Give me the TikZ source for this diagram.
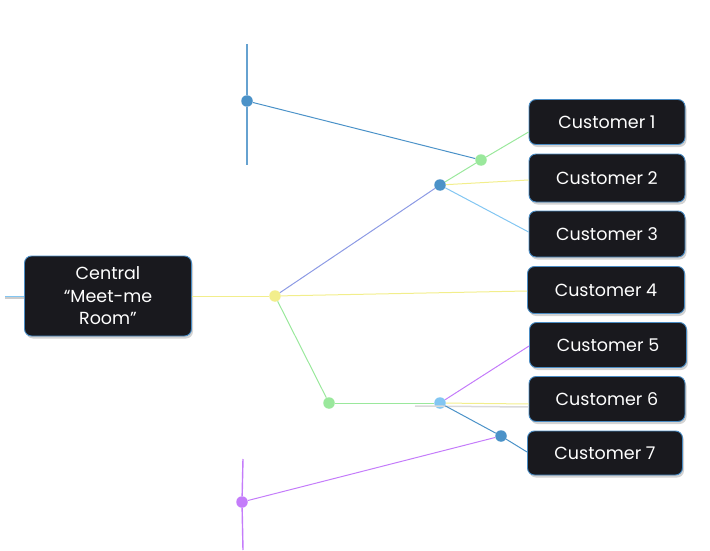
\documentclass[tikz,border=0pt]{standalone}
\usepackage{fontspec}
\setmainfont{Poppins}
\usetikzlibrary{shadows}
\definecolor{boxfill}{HTML}{19191E}
\definecolor{edgeblue}{HTML}{4A8CC4}
\definecolor{lnblue}{HTML}{4B92C8}
\definecolor{lngreen}{HTML}{9AE89C}
\definecolor{lnyellow}{HTML}{F2EE8C}
\definecolor{lnsky}{HTML}{82C6F2}
\definecolor{lnpurple}{HTML}{C47CFA}
\definecolor{lnperi}{HTML}{8C9AE4}
\begin{document}
\begin{tikzpicture}[x=1pt,y=-1pt,
  custbox/.style={draw=edgeblue, line width=0.9pt, fill=boxfill, rounded corners=7pt,
    text=white, minimum width=156pt, minimum height=45pt,
    font=\fontsize{17.5}{22.5}\selectfont,
    drop shadow={opacity=0.35, shadow xshift=1.5pt, shadow yshift=-2.5pt}},
  hub/.style={circle, fill=#1, inner sep=0pt, minimum size=11.5pt},
  link/.style={draw=#1, line width=1pt}]
\useasboundingbox (0,0) rectangle (710,551);
% boxes
\node[custbox, minimum width=167pt, minimum height=80pt, align=center] (central) at (108,296)
  {Central\\“Meet-me\\Room”};
\node[custbox] (c1) at (607,122) {Customer 1};
\node[custbox, minimum height=48pt] (c2) at (607,178) {Customer 2};
\node[custbox, minimum height=46pt] (c3) at (607,234) {Customer 3};
\node[custbox, minimum height=47pt, minimum width=157pt] (c4) at (606,290) {Customer 4};
\node[custbox, minimum width=157pt] (c5) at (608,345) {Customer 5};
\node[custbox] (c6) at (607,399) {Customer 6};
\node[custbox, minimum width=155pt, minimum height=44pt] (c7) at (605,453) {Customer 7};
% hubs
\node[hub=lnblue] (h1) at (247,101) {};
\node[hub=lngreen] (h2) at (481,160) {};
\node[hub=lnblue] (h3) at (440,185) {};
\node[hub=lnyellow] (h4) at (275,296) {};
\node[hub=lngreen] (h5) at (329,403) {};
\node[hub=lnsky] (h6) at (440,403) {};
\node[hub=lnblue] (h7) at (501,436) {};
\node[hub=lnpurple] (h8) at (242,502) {};
\coordinate (top1) at (247,44);
\coordinate (bot1) at (247,165);
\coordinate (top2) at (243,459);
\coordinate (bot2) at (243,550);
\coordinate (lend) at (5,298);
\coordinate (sh6) at (415,406);
% connectors
\draw[link=lnblue!85, line width=1.4pt] (top1) -- (h1) -- (bot1);
\draw[link=lnpurple, line width=1.4pt] (top2) -- (h8) -- (bot2);
\draw[gray!40, line width=1.5pt] (lend) -- ([yshift=-2pt]central.west);
\draw[link=lnsky] ([yshift=2pt]lend) -- (central.west);
\draw[gray!30, line width=1.5pt] (sh6) -- ([yshift=-8pt]c6.west);
\draw[link=lnblue] (h1) -- (h2);
\draw[link=lngreen] (h3) -- (h2);
\draw[link=lngreen] (h2) -- ([yshift=-10pt]c1.west);
\draw[link=lnyellow] (h3) -- ([yshift=-2pt]c2.west);
\draw[link=lnsky] (h3) -- ([yshift=2pt]c3.west);
\draw[link=lnperi] (h4) -- (h3);
\draw[link=lnyellow] (central.east) -- (h4);
\draw[link=lnyellow] (h4) -- ([yshift=-1pt]c4.west);
\draw[link=lngreen] (h4) -- (h5);
\draw[link=lngreen] (h5) -- (h6);
\draw[link=lnyellow] (h6) -- ([yshift=-5pt]c6.west);
\draw[link=lnpurple] (h6) -- ([yshift=-1pt]c5.west);
\draw[link=lnblue] (h6) -- (h7);
\draw[link=lnblue] (h7) -- ([yshift=1pt]c7.west);
\draw[link=lnpurple] (h8) -- (h7);
\end{tikzpicture}
\end{document}
